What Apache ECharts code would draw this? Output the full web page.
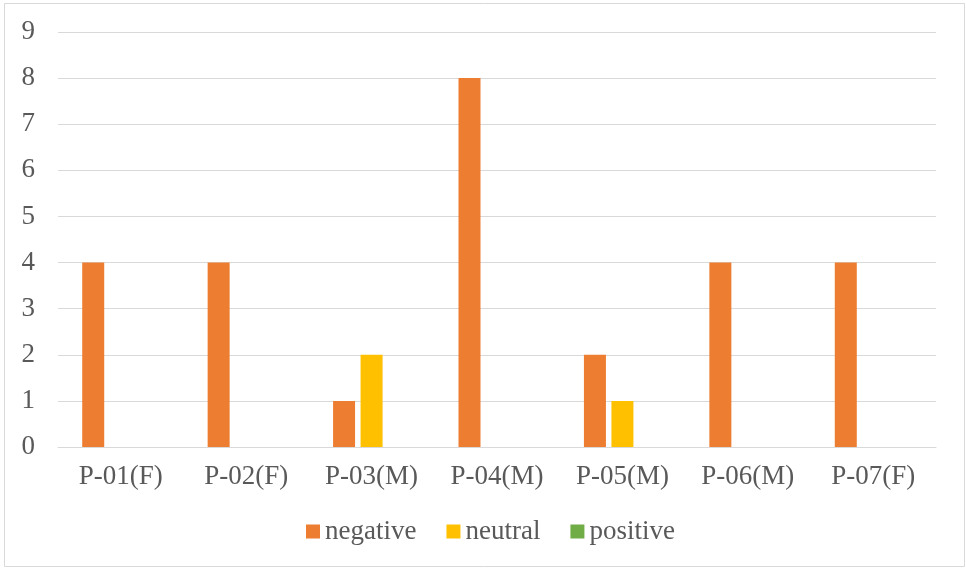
<!DOCTYPE html>
<html>
<head>
<meta charset="utf-8">
<script src="https://cdn.jsdelivr.net/npm/echarts@6/dist/echarts.min.js"></script>
<style>
  html, body { margin: 0; padding: 0; background: #fff; }
  #chart { width: 966px; height: 572px; }
</style>
</head>
<body>
<div id="chart"></div>
<script>
// Participants and sentiment counts
const participants = ['P-01(F)', 'P-02(F)', 'P-03(M)', 'P-04(M)', 'P-05(M)', 'P-06(M)', 'P-07(F)'];
const negative = [4, 4, 1, 8, 2, 4, 4];
const neutral  = [0, 0, 2, 0, 1, 0, 0];
const positive = [0, 0, 0, 0, 0, 0, 0];

const FONT = '"Liberation Serif", "Times New Roman", serif';
const TEXT = '#595959';
const GRID = '#D9D9D9';

const chart = echarts.init(document.getElementById('chart'), null, { renderer: 'canvas' });

function bar(name, data, color) {
  return {
    name, type: 'bar', data,
    barWidth: 22, barGap: '25%',
    itemStyle: { color },
    emphasis: { disabled: true }
  };
}

chart.setOption({
  animation: false,
  backgroundColor: '#fff',
  graphic: [{
    type: 'rect',
    shape: { x: 4.5, y: 3.5, width: 960, height: 563 },
    style: { fill: 'none', stroke: GRID, lineWidth: 1 },
    silent: true
  }],
  grid: { left: 58, right: 30, top: 32, bottom: 125, containLabel: false },
  legend: {
    bottom: 22, left: 301,
    itemWidth: 14, itemHeight: 14, itemGap: 30,
    icon: 'rect',
    textStyle: { fontFamily: FONT, fontSize: 27, color: TEXT },
    data: ['negative', 'neutral', 'positive']
  },
  xAxis: {
    type: 'category',
    data: participants,
    axisLine: { show: true, lineStyle: { color: GRID, width: 1 } },
    axisTick: { show: false },
    axisLabel: { fontFamily: FONT, fontSize: 27, color: TEXT, margin: 16, interval: 0 }
  },
  yAxis: {
    type: 'value', min: 0, max: 9, interval: 1,
    axisLine: { show: false },
    axisTick: { show: false },
    splitLine: { lineStyle: { color: GRID, width: 1 } },
    axisLabel: { fontFamily: FONT, fontSize: 27, color: TEXT, margin: 23 }
  },
  series: [
    bar('negative', negative, '#ED7D31'),
    bar('neutral', neutral, '#FFC000'),
    bar('positive', positive, '#70AD47')
  ]
});
</script>
</body>
</html>
